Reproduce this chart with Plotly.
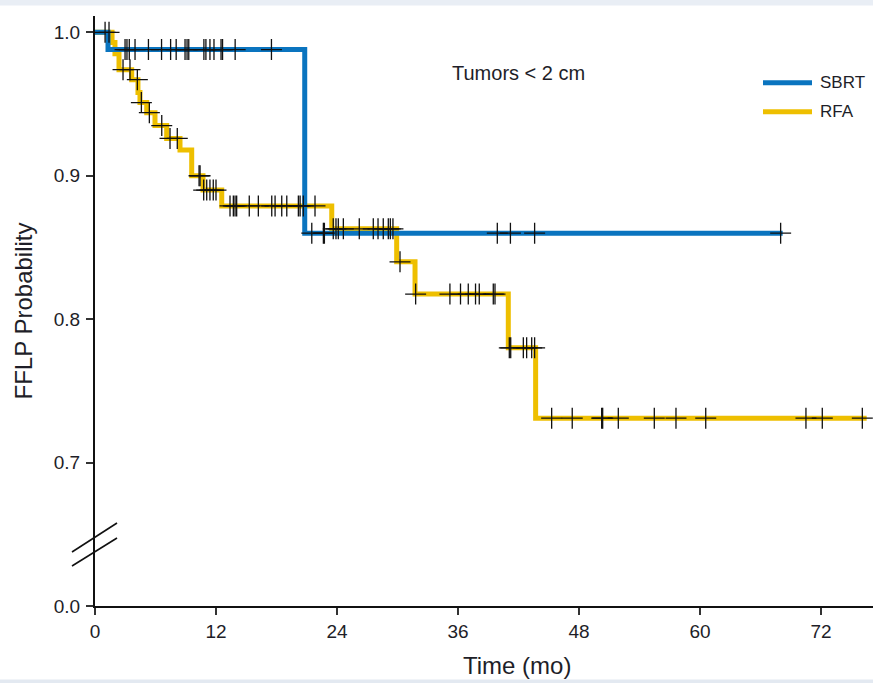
import plotly.graph_objects as go

# ---- data (months, survival probability) ----
sbrt_t = [0, 1.29, 20.8, 68.2]
sbrt_s = [1.0, 0.988, 0.860, 0.860]
sbrt_cens = [1.0, 2.98, 3.17, 3.4, 3.97, 5.3, 6.6, 7.5, 8.05, 8.93, 9.13, 9.3,
             10.8, 11.0, 11.4, 11.8, 12.5, 12.65, 13.9, 17.5, 21.5, 22.65, 22.75,
             39.9, 41.2, 43.6, 68.0]

rfa_t = [0, 1.69, 1.98, 2.38, 3.64, 4.26, 4.46, 5.13, 5.95, 7.11, 8.43, 9.59,
         10.71, 12.57, 23.48, 29.92, 31.74, 40.99, 43.7, 76.53]
rfa_s = [1.0, 0.993, 0.985, 0.974, 0.967, 0.958, 0.951, 0.944, 0.935, 0.926, 0.918,
         0.900, 0.890, 0.879, 0.863, 0.840, 0.8175, 0.780, 0.731, 0.731]
rfa_cens = [1.39, 2.78, 3.47, 4.2, 4.6, 5.39, 6.62, 7.44, 8.16, 10.32, 10.42,
            10.78, 11.08, 11.4, 11.73, 12.0, 13.39, 13.72, 13.89, 14.05, 15.3, 16.2,
            17.53, 17.86, 18.52, 19.02, 20.17, 20.34, 20.66, 21.82, 23.63, 23.9,
            24.13, 24.63, 26.21, 27.6, 28.07, 28.59, 29.09, 29.29, 29.55, 30.25,
            31.8, 35.2, 36.25, 37.02, 37.74, 38.11, 39.5, 39.67, 41.09, 41.23,
            42.48, 42.81, 43.31, 43.6, 45.29, 47.33, 50.25, 50.35, 51.9, 55.47,
            57.62, 60.57, 70.51, 72.13, 76.1]

x_ticks = [0, 12, 24, 36, 48, 60, 72]
y_tickvals = [0.6, 0.7, 0.8, 0.9, 1.0]
y_ticktext = ["0.0", "0.7", "0.8", "0.9", "1.0"]

BLUE = "#0a74bf"
GOLD = "#eebf00"
FONT = "Liberation Sans, Arial, sans-serif"
TXT = "#1e1e28"


def surv_at(t, times, surv):
    s = surv[0]
    for ti, si in zip(times, surv):
        if ti <= t:
            s = si
    return s


fig = go.Figure()
fig.add_trace(go.Scatter(x=rfa_t, y=rfa_s, mode="lines", line=dict(color=GOLD, width=5, shape="hv"),
                         name="RFA", showlegend=False))
fig.add_trace(go.Scatter(x=sbrt_t, y=sbrt_s, mode="lines", line=dict(color=BLUE, width=5, shape="hv"),
                         name="SBRT", showlegend=False))
for cens, times, surv in [(rfa_cens, rfa_t, rfa_s), (sbrt_cens, sbrt_t, sbrt_s)]:
    fig.add_trace(go.Scatter(
        x=cens, y=[surv_at(c, times, surv) for c in cens], mode="markers",
        marker=dict(symbol="cross-thin", size=15, line=dict(color="#111", width=1.3)),
        showlegend=False))

# paper coordinates helpers (pixel based layout)
L, R, T, B = 95, 0, 16, 77
W, H = 873, 683
pw, ph = W - L - R, H - T - B


def px(x):
    return (x - L) / pw


def py(y):
    return (H - B - y) / ph


shapes = [
    # top & bottom light strips
    dict(type="rect", xref="paper", yref="paper", x0=px(0), x1=px(W), y0=py(0), y1=py(5.5),
         fillcolor="#e9eef5", line=dict(width=0), layer="below"),
    dict(type="rect", xref="paper", yref="paper", x0=px(0), x1=px(W), y0=py(679.5), y1=py(H),
         fillcolor="#e3e9f1", line=dict(width=0), layer="below"),
    # axis break marks
    dict(type="line", xref="paper", yref="paper", x0=px(72), y0=py(552), x1=px(117), y1=py(523),
         line=dict(color="#111", width=1.6)),
    dict(type="line", xref="paper", yref="paper", x0=px(72), y0=py(566), x1=px(117), y1=py(538),
         line=dict(color="#111", width=1.6)),
    # legend samples
    dict(type="line", xref="paper", yref="paper", x0=px(763), y0=py(82.7), x1=px(812), y1=py(82.7),
         line=dict(color=BLUE, width=5)),
    dict(type="line", xref="paper", yref="paper", x0=px(763), y0=py(111.7), x1=px(812), y1=py(111.7),
         line=dict(color=GOLD, width=5)),
]

annotations = [
    dict(text="SBRT", xref="paper", yref="paper", x=px(818), y=py(82.7), xanchor="left", yanchor="middle",
         showarrow=False, font=dict(family=FONT, size=17, color=TXT)),
    dict(text="RFA", xref="paper", yref="paper", x=px(818), y=py(111.7), xanchor="left", yanchor="middle",
         showarrow=False, font=dict(family=FONT, size=17, color=TXT)),
    dict(text="Tumors < 2 cm", xref="paper", yref="paper", x=px(518), y=py(73), xanchor="center",
         yanchor="middle", showarrow=False, font=dict(family=FONT, size=20, color=TXT)),
    dict(text="Time (mo)", xref="paper", yref="paper", x=px(517), y=py(665), xanchor="center",
         yanchor="middle", showarrow=False, font=dict(family=FONT, size=24, color=TXT)),
]

fig.update_layout(
    width=W, height=H, margin=dict(l=L, r=R, t=T, b=B),
    paper_bgcolor="white", plot_bgcolor="white",
    shapes=shapes, annotations=annotations, showlegend=False,
    font=dict(family=FONT, color=TXT),
    xaxis=dict(range=[0, (W - L) / 10.083], tickvals=x_ticks, ticks="outside", ticklen=7, tickwidth=1.5,
               tickcolor="#333", showline=True, linewidth=2, linecolor="#111", showgrid=False,
               zeroline=False, tickfont=dict(size=19, family=FONT, color=TXT)),
    yaxis=dict(range=[0.6, 1.0114], tickvals=y_tickvals, ticktext=y_ticktext, ticks="outside", ticklen=7,
               tickwidth=1.5, tickcolor="#333", showline=True, linewidth=2, linecolor="#111",
               showgrid=False, zeroline=False, tickfont=dict(size=19, family=FONT, color=TXT),
               ticklabelstandoff=2,
               title=dict(text="FFLP Probability", font=dict(size=24, family=FONT, color=TXT), standoff=14)),
)

fig.write_html("out.html")
